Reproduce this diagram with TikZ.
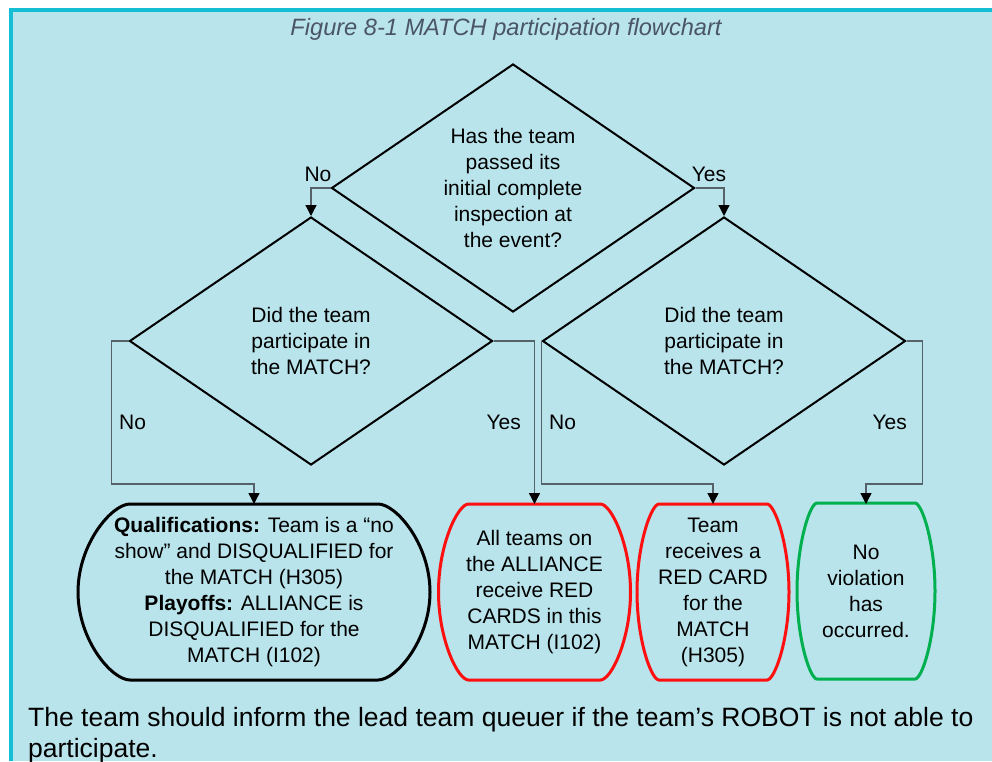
\documentclass[tikz,border=0pt]{standalone}
\usepackage{fontspec}
\setmainfont{Liberation Sans}
\usepackage{tikz}
\usetikzlibrary{
	arrows.meta,
	positioning,
	calc,
	shapes.geometric
}
\usepackage{xcolor}

\definecolor{panel}{HTML}{B9E4EB}
\definecolor{rim}{HTML}{14BED4}
\definecolor{captiongray}{HTML}{4A5566}
\definecolor{wiregray}{HTML}{56626A}
\definecolor{cardred}{HTML}{FF1010}
\definecolor{okgreen}{HTML}{00B04F}

\newcommand\flowfont{\fontsize{21}{26}\selectfont}

% outline of a result box: node, colour, half of the flat edge, bulge
\newcommand\capoutline[4]{%
	\draw[#2,line width=3pt]
	($(#1.center)+(-#3,-88)$) -- ($(#1.center)+(#3,-88)$)
	.. controls ($(#1.center)+(#3+0.35*#4,-88)$) and ($(#1.center)+(#3+#4,-48)$) .. ($(#1.center)+(#3+#4,0)$)
	.. controls ($(#1.center)+(#3+#4,48)$) and ($(#1.center)+(#3+0.35*#4,88)$) .. ($(#1.center)+(#3,88)$)
	-- ($(#1.center)+(-#3,88)$)
	.. controls ($(#1.center)+(-#3-0.35*#4,88)$) and ($(#1.center)+(-#3-#4,48)$) .. ($(#1.center)+(-#3-#4,0)$)
	.. controls ($(#1.center)+(-#3-#4,-48)$) and ($(#1.center)+(-#3-0.35*#4,-88)$) .. ($(#1.center)+(-#3,-88)$)
	-- cycle;}

\begin{document}
\begin{tikzpicture}[x=1pt,y=-1pt,
		question/.style={diamond,aspect=1.46,draw=black,line width=2pt,minimum width=363pt,
			minimum height=248pt,inner sep=0pt,align=center,font=\flowfont},
		outcome/.style={align=center,inner sep=0pt,font=\flowfont},
		tag/.style={inner sep=0pt,font=\flowfont},
		wire/.style={draw=wiregray,line width=1.3pt,
			-{Triangle[width=11pt,length=11pt,color=black]}}]
	
	\useasboundingbox (0,0) rectangle (992,761);
	
	% panel
	\fill[panel] (13,12) rectangle (992,761);
	\fill[rim] (9,8) rectangle (13,761);
	\fill[rim] (9,8) rectangle (992,12);
	
	\node[font=\fontsize{23.6}{26}\selectfont\itshape,text=captiongray,anchor=base] (title) at (506,35) {Figure 8-1 MATCH participation flowchart};
	
	% questions
	\node[question] (q1) at (513,188) {Has the team\\passed its\\initial complete\\inspection at\\the event?};
	\node[question] (q2) at (311,341) {Did the team\\participate in\\the MATCH?};
	\node[question] (q3) at (724,341) {Did the team\\participate in\\the MATCH?};
	
	% outcomes
	\node[outcome] (r1) at (254,592) {\textbf{Qualifications:} Team is a “no\\show” and DISQUALIFIED for\\the MATCH (H305)\\\textbf{Playoffs:} ALLIANCE is\\DISQUALIFIED for the\\MATCH (I102)};
	\node[outcome] (r2) at (534.5,592) {All teams on\\the ALLIANCE\\receive RED\\CARDS in this\\MATCH (I102)};
	\node[outcome] (r3) at (713,592) {Team\\receives a\\RED CARD\\for the\\MATCH\\(H305)};
	\node[outcome] (r4) at (866,591) {No\\violation\\has\\occurred.};
	
	\capoutline{r1}{black}{124}{52}
	\capoutline{r2}{cardred}{66}{30}
	\capoutline{r3}{cardred}{54}{22}
	\capoutline{r4}{okgreen}{49}{20}
	
	% connectors
	\draw[wire] (q1.west) -| (q2.north);
	\draw[wire] (q1.east) -| (q3.north);
	\draw[wire] (q2.west) -- ++(-17,0) |- ([yshift=108pt]r1.center) -- ([yshift=88pt]r1.center);
	\draw[wire] (q2.east) -| ([yshift=88pt]r2.center);
	\draw[wire] (q3.west) |- ([yshift=108pt]r3.center) -- ([yshift=88pt]r3.center);
	\draw[wire] (q3.east) -- ++(16,0) |- ([yshift=107pt]r4.center) -- ([yshift=87pt]r4.center);
	
	\node[tag] (no1) at (318,174) {No};
	\node[tag] (yes1) at (709,174) {Yes};
	\node[tag,anchor=west] (no2) at (119,422) {No};
	\node[tag,anchor=east] (yes2) at (521,422) {Yes};
	\node[tag,anchor=west] (no3) at (549,422) {No};
	\node[tag,anchor=east] (yes3) at (907,422) {Yes};
	
	\node[font=\fontsize{26.5}{31}\selectfont,align=left,anchor=base west,inner sep=0pt] (note) at (28,757) {The team should inform the lead team queuer if the team’s ROBOT is not able to\\participate.};
	
\end{tikzpicture}
\end{document}
